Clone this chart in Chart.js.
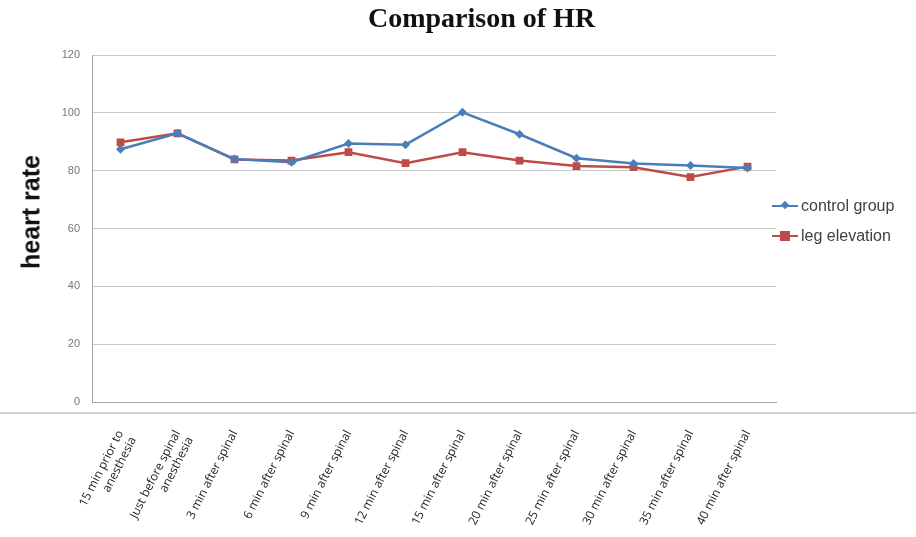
<!DOCTYPE html>
<html>
<head>
<meta charset="utf-8">
<script src="https://cdn.jsdelivr.net/npm/chart.js@4.4.0/dist/chart.umd.min.js"></script>
<style>
  body { margin: 0; background: #fff; }
  #wrap { position: relative; width: 916px; height: 537px; }
  #title { position: absolute; left: 368px; top: 2px; font: bold 28px "Liberation Serif", serif; color: #111; white-space: nowrap; }
  #ytitle { position: absolute; left: 31px; top: 212px; transform: translate(-50%, -50%) rotate(-90deg); font: bold 25px "Liberation Sans", sans-serif; color: #111; white-space: nowrap; }
  #frameline { position: absolute; left: 0; top: 412px; width: 916px; height: 0; border-top: 2px solid #cfcfcf; }
  #legend { position: absolute; left: 772px; top: 196px; font: 16px "Liberation Sans", sans-serif; color: #404040; }
  .item { position: relative; height: 30px; line-height: 20px; padding-left: 29px; white-space: nowrap; }
  .item .ln { position: absolute; left: 0; top: 9px; width: 26px; height: 2px; }
  .item .mk { position: absolute; }
</style>
</head>
<body>
<div id="wrap">
  <canvas id="chart" width="916" height="537"></canvas>
  <div id="frameline"></div>
  <div id="title">Comparison of HR</div>
  <div id="ytitle">heart rate</div>
  <div id="legend">
    <div class="item"><span class="ln" style="background:#4a7ebb"></span><span class="mk" style="left:10px;top:6px;width:6px;height:6px;background:#4a7ebb;transform:rotate(45deg)"></span>control group</div>
    <div class="item"><span class="ln" style="background:#be4b48"></span><span class="mk" style="left:8px;top:5px;width:10px;height:10px;background:#be4b48"></span>leg elevation</div>
  </div>
</div>
<script>
// time points along the x axis
var TIME_LABELS = [
  ["15 min prior to", "anesthesia"],
  ["Just before spinal", "anesthesia"],
  "3 min after spinal",
  "6 min after spinal",
  "9 min after spinal",
  "12 min after spinal",
  "15 min after spinal",
  "20 min after spinal",
  "25 min after spinal",
  "30 min after spinal",
  "35 min after spinal",
  "40 min after spinal"
];
var CONTROL_GROUP = [87.4, 92.9, 84.0, 82.9, 89.4, 89.0, 100.2, 92.6, 84.3, 82.5, 81.8, 80.9];
var LEG_ELEVATION = [89.8, 92.9, 83.9, 83.5, 86.4, 82.6, 86.4, 83.5, 81.6, 81.2, 77.8, 81.4];

var ctx = document.getElementById("chart");

var chart = new Chart(ctx, {
  type: "line",
  data: {
    labels: TIME_LABELS,
    datasets: [
      {
        label: "control group",
        data: CONTROL_GROUP,
        borderColor: "#4a7ebb",
        backgroundColor: "#4a7ebb",
        borderWidth: 2.5,
        pointStyle: "rectRot",
        pointRadius: 4.5,
        pointBorderWidth: 0,
        tension: 0
      },
      {
        label: "leg elevation",
        data: LEG_ELEVATION,
        borderColor: "#be4b48",
        backgroundColor: "#be4b48",
        borderWidth: 2.5,
        pointStyle: "rect",
        pointRadius: 5.5,
        pointBorderWidth: 0,
        tension: 0
      }
    ]
  },
  options: {
    responsive: false,
    animation: false,
    layout: { padding: { top: 55, right: 140, left: 0, bottom: 0 } },
    plugins: {
      legend: { display: false },
      title: { display: false },
      tooltip: { enabled: false }
    },
    scales: {
      x: {
        offset: true,
        grid: { display: false, drawTicks: false },
        border: { display: true, color: "#a6a6a6", width: 1 },
        ticks: {
          color: "#222",
          font: { family: "'Open Sans', sans-serif", size: 12 },
          minRotation: 63,
          maxRotation: 63,
          autoSkip: false,
          padding: 26
        },
        afterFit: function (scale) { scale.height = 135; }
      },
      y: {
        min: 0,
        max: 120,
        grid: { color: "#c8c8c8", drawTicks: false },
        border: { display: true, color: "#a6a6a6", width: 1 },
        ticks: {
          stepSize: 20,
          color: "#777",
          font: { family: "'Liberation Sans', sans-serif", size: 11 },
          padding: 12
        },
        afterFit: function (scale) { scale.width = 92; }
      }
    }
  }
});
</script>
</body>
</html>
